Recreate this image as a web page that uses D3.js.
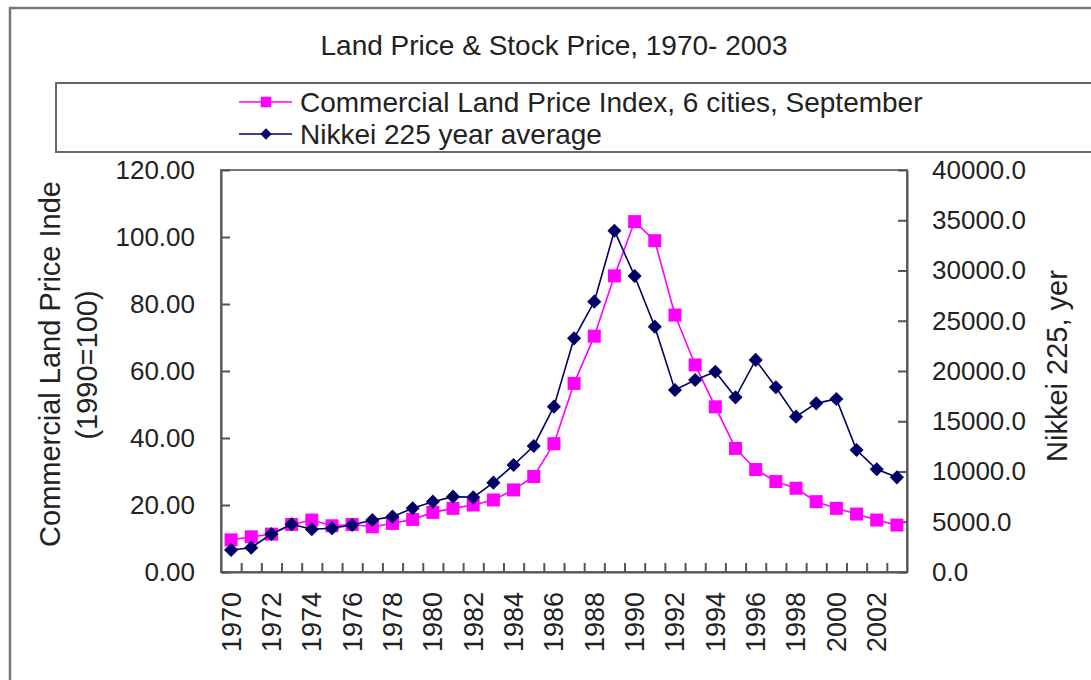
<html>
<head>
<style>
    body { margin: 0; background: #fff; }
    svg text { font-family: "Liberation Sans", Arial, sans-serif; fill: #222; }
</style>
</head>
<body>
<svg id="chart" width="1091" height="680"></svg>
<script src="https://cdnjs.cloudflare.com/ajax/libs/d3/7.8.5/d3.min.js"></script>
<script>
    // data
    var years = [1970, 1971, 1972, 1973, 1974, 1975, 1976, 1977, 1978, 1979,
                 1980, 1981, 1982, 1983, 1984, 1985, 1986, 1987, 1988, 1989,
                 1990, 1991, 1992, 1993, 1994, 1995, 1996, 1997, 1998, 1999,
                 2000, 2001, 2002, 2003];
    var landPrice = [9.6, 10.5, 11.3, 14.2, 15.5, 13.8, 14.2, 13.5, 14.5, 15.7,
                     17.8, 19.0, 20.0, 21.5, 24.5, 28.5, 38.3, 56.3, 70.4, 88.4,
                     104.6, 98.9, 76.7, 61.8, 49.3, 36.9, 30.6, 27.0, 25.0, 21.0,
                     19.0, 17.3, 15.5, 14.0];
    var nikkei = [2190, 2420, 3780, 4750, 4250, 4350, 4680, 5170, 5510, 6340,
                  7000, 7500, 7430, 8890, 10650, 12540, 16450, 23250, 26900, 33960,
                  29450, 24410, 18110, 19100, 19930, 17380, 21100, 18380, 15460, 16780,
                  17210, 12140, 10220, 9420];
    var leftTicks = [0, 20, 40, 60, 80, 100, 120];
    var rightTicks = [0, 5000, 10000, 15000, 20000, 25000, 30000, 35000, 40000];
    var yearLabels = years.filter(function (y) { return y % 2 === 0; });

    var svg = d3.select('#chart');
    var plotL = 221, plotR = 907, plotT = 170, plotB = 572;

    // outer border and legend box
    svg.append('rect').attr('x', 10).attr('y', 8).attr('width', 1100).attr('height', 700)
        .attr('fill', 'none').attr('stroke', '#777').attr('stroke-width', 2.5);

    svg.append('text').attr('x', 554).attr('y', 55).attr('text-anchor', 'middle')
        .style('font-size', '28px').text('Land Price & Stock Price, 1970- 2003');

    svg.append('rect').attr('x', 56).attr('y', 83).attr('width', 1100).attr('height', 69)
        .attr('fill', 'none').attr('stroke', '#666').attr('stroke-width', 2);

    var x = d3.scaleBand().domain(years).range([plotL, plotR]);
    var xEdge = d3.scaleLinear().domain([0, years.length]).range([plotL, plotR]);
    var yL = d3.scaleLinear().domain([0, 120]).range([plotB, plotT]);
    var yR = d3.scaleLinear().domain([0, 40000]).range([plotB, plotT]);
    var cx = function (d, i) { return x(years[i]) + x.bandwidth() / 2; };

    // plot frame
    svg.append('rect').attr('x', plotL).attr('y', plotT).attr('width', plotR - plotL).attr('height', plotB - plotT)
        .attr('fill', 'none').attr('stroke', '#777').attr('stroke-width', 2);

    var gL = svg.append('g').attr('transform', 'translate(' + plotL + ',0)')
        .call(d3.axisLeft(yL).tickValues(leftTicks).tickFormat(d3.format('.2f')).tickSizeInner(-9).tickSizeOuter(0).tickPadding(26));
    var gR = svg.append('g').attr('transform', 'translate(' + plotR + ',0)')
        .call(d3.axisRight(yR).tickValues(rightTicks).tickFormat(d3.format('.1f')).tickSizeInner(-9).tickSizeOuter(0).tickPadding(25));
    var gT = svg.append('g').attr('transform', 'translate(0,' + plotB + ')')
        .call(d3.axisBottom(xEdge).tickValues(d3.range(1, years.length)).tickFormat('').tickSizeInner(-9).tickSizeOuter(0));
    var gX = svg.append('g').attr('transform', 'translate(0,' + plotB + ')')
        .call(d3.axisBottom(x).tickValues(yearLabels).tickSize(0));
    gX.select('.domain').remove();
    gX.selectAll('text')
        .attr('transform', 'rotate(-90)')
        .attr('x', -20).attr('y', 0).attr('dy', '0.35em')
        .attr('text-anchor', 'end');

    [gL, gR, gT].forEach(function (g) {
        g.select('.domain').attr('stroke', '#555').attr('stroke-width', 2);
        g.selectAll('.tick line').attr('stroke', '#555').attr('stroke-width', 2);
    });
    [gL, gR].forEach(function (g) {
        g.selectAll('text').style('font-size', '26px').attr('fill', '#222');
    });
    gX.selectAll('text').style('font-size', '27px').attr('fill', '#222');

    // axis titles
    svg.append('text').attr('transform', 'translate(50,364) rotate(-90)').attr('dy', '0.35em')
        .attr('text-anchor', 'middle').style('font-size', '29px').text('Commercial Land Price Inde');
    svg.append('text').attr('transform', 'translate(87,365) rotate(-90)').attr('dy', '0.35em')
        .attr('text-anchor', 'middle').style('font-size', '29px').text('(1990=100)');
    svg.append('text').attr('transform', 'translate(1057,366) rotate(-90)').attr('dy', '0.35em')
        .attr('text-anchor', 'middle').style('font-size', '29px').text('Nikkei 225, yer');

    var pink = '#ff00ff', navy = '#000066';
    var square = d3.symbol().type(d3.symbolSquare);

    // land price series
    svg.append('path').datum(landPrice)
        .attr('d', d3.line().x(cx).y(function (d) { return yL(d); }))
        .attr('fill', 'none').attr('stroke', pink).attr('stroke-width', 1.6);
    svg.selectAll('.sq').data(landPrice).enter().append('path')
        .attr('transform', function (d, i) { return 'translate(' + cx(d, i) + ',' + yL(d) + ')'; })
        .attr('d', square.size(169)()).attr('fill', pink);

    // nikkei series
    svg.append('path').datum(nikkei)
        .attr('d', d3.line().x(cx).y(function (d) { return yR(d); }))
        .attr('fill', 'none').attr('stroke', navy).attr('stroke-width', 1.6);
    svg.selectAll('.dm').data(nikkei).enter().append('path')
        .attr('transform', function (d, i) { return 'translate(' + cx(d, i) + ',' + yR(d) + ') rotate(45)'; })
        .attr('d', square.size(100)()).attr('fill', navy);

    // legend
    var legend = [
        { name: 'Commercial Land Price Index, 6 cities, September', color: pink, y: 102, rot: 0, size: 110 },
        { name: 'Nikkei 225 year average', color: navy, y: 134, rot: 45, size: 64 }
    ];
    legend.forEach(function (l) {
        svg.append('line').attr('x1', 239).attr('x2', 292).attr('y1', l.y).attr('y2', l.y)
            .attr('stroke', l.color).attr('stroke-width', 1.6);
        svg.append('path').attr('transform', 'translate(266,' + l.y + ') rotate(' + l.rot + ')')
            .attr('d', square.size(l.size)()).attr('fill', l.color);
        svg.append('text').attr('x', 300).attr('y', l.y).attr('dy', '0.35em')
            .style('font-size', '28px').text(l.name);
    });
</script>
</body>
</html>
